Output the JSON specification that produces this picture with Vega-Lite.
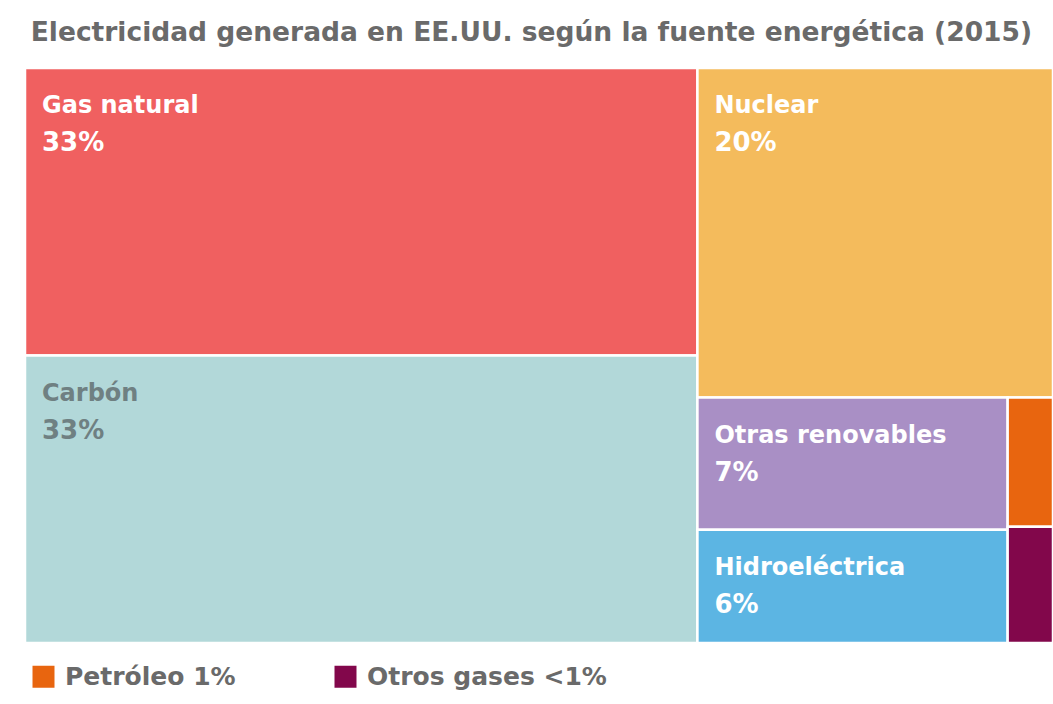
{
  "$schema": "https://vega.github.io/schema/vega-lite/v6.json",
  "width": 1028,
  "height": 575,
  "autosize": {"type": "none"},
  "padding": {"top": 68, "left": 25, "right": 0, "bottom": 61},
  "background": "white",
  "title": {
    "text": "Electricidad generada en EE.UU. según la fuente energética (2015)",
    "anchor": "start",
    "dx": 7,
    "offset": 20,
    "font": "DejaVu Sans",
    "fontSize": 26.5,
    "fontWeight": "bold",
    "color": "#6a6a6a"
  },
  "data": {
    "values": [
      {"name": "Gas natural", "value": 33, "pct": "33%", "col": 1, "grp": 1, "sub": 1, "ord": 1},
      {"name": "Carbón", "value": 33, "pct": "33%", "col": 1, "grp": 1, "sub": 1, "ord": 2},
      {"name": "Nuclear", "value": 20, "pct": "20%", "col": 2, "grp": 1, "sub": 1, "ord": 1},
      {"name": "Otras renovables", "value": 7, "pct": "7%", "col": 2, "grp": 2, "sub": 1, "ord": 1},
      {"name": "Hidroeléctrica", "value": 6, "pct": "6%", "col": 2, "grp": 2, "sub": 1, "ord": 2},
      {"name": "Petróleo", "value": 1, "pct": "1%", "col": 2, "grp": 2, "sub": 2, "ord": 1},
      {"name": "Otros gases", "value": 0.9, "pct": "<1%", "col": 2, "grp": 2, "sub": 2, "ord": 2}
    ]
  },
  "transform": [
    {"stack": "value", "groupby": [], "sort": [{"field": "col"}, {"field": "grp"}, {"field": "sub"}, {"field": "ord"}], "as": ["a0", "a1"]},
    {"joinaggregate": [{"op": "min", "field": "a0", "as": "cx0"}, {"op": "max", "field": "a1", "as": "cx1"}], "groupby": ["col"]},
    {"stack": "value", "groupby": ["col"], "sort": [{"field": "grp"}, {"field": "sub"}, {"field": "ord"}], "offset": "normalize", "as": ["b0", "b1"]},
    {"joinaggregate": [{"op": "min", "field": "b0", "as": "gy0"}, {"op": "max", "field": "b1", "as": "gy1"}], "groupby": ["col", "grp"]},
    {"stack": "value", "groupby": ["col", "grp"], "sort": [{"field": "sub"}, {"field": "ord"}], "offset": "normalize", "as": ["c0", "c1"]},
    {"joinaggregate": [{"op": "min", "field": "c0", "as": "sx0"}, {"op": "max", "field": "c1", "as": "sx1"}], "groupby": ["col", "grp", "sub"]},
    {"stack": "value", "groupby": ["col", "grp", "sub"], "sort": [{"field": "ord"}], "offset": "normalize", "as": ["d0", "d1"]},
    {"calculate": "datum.cx0 + datum.sx0 * (datum.cx1 - datum.cx0)", "as": "x0"},
    {"calculate": "datum.cx0 + datum.sx1 * (datum.cx1 - datum.cx0)", "as": "x1"},
    {"calculate": "datum.gy0 + datum.d0 * (datum.gy1 - datum.gy0)", "as": "y0"},
    {"calculate": "datum.gy0 + datum.d1 * (datum.gy1 - datum.gy0)", "as": "y1"}
  ],
  "encoding": {
    "x": {"field": "x0", "type": "quantitative", "scale": {"nice": false, "zero": true}, "axis": null},
    "y": {"field": "y0", "type": "quantitative", "scale": {"domain": [0, 1], "reverse": true, "nice": false}, "axis": null}
  },
  "layer": [
    {
      "mark": {"type": "rect", "stroke": "white", "strokeWidth": 2.5},
      "encoding": {
        "x2": {"field": "x1"},
        "y2": {"field": "y1"},
        "color": {
          "field": "name",
          "type": "nominal",
          "scale": {
            "domain": ["Gas natural", "Carbón", "Nuclear", "Otras renovables", "Hidroeléctrica", "Petróleo", "Otros gases"],
            "range": ["#f06060", "#b2d8d9", "#f4bb5c", "#a98fc5", "#5cb5e3", "#e8650f", "#82074b"]
          },
          "legend": {
            "values": ["Petróleo", "Otros gases"],
            "title": null,
            "orient": "none",
            "direction": "horizontal",
            "legendX": 6,
            "legendY": 596,
            "symbolType": "square",
            "symbolSize": 484,
            "symbolStrokeWidth": 0,
            "symbolOpacity": 1,
            "labelFont": "DejaVu Sans",
            "labelFontSize": 25,
            "labelFontWeight": "bold",
            "labelColor": "#6a6a6a",
            "labelOffset": 9,
            "columnPadding": 97,
            "labelLimit": 400,
            "labelExpr": "datum.label == 'Petróleo' ? 'Petróleo 1%' : 'Otros gases <1%'"
          }
        }
      }
    },
    {
      "transform": [{"filter": "datum.value >= 5"}],
      "mark": {"type": "text", "align": "left", "baseline": "alphabetic", "dx": 17, "dy": 45, "font": "DejaVu Sans", "fontSize": 24, "fontWeight": "bold"},
      "encoding": {
        "text": {"field": "name"},
        "color": {"condition": {"test": "datum.name == 'Carbón'", "value": "#6f8082"}, "value": "white"}
      }
    },
    {
      "transform": [{"filter": "datum.value >= 5"}],
      "mark": {"type": "text", "align": "left", "baseline": "alphabetic", "dx": 17, "dy": 83, "font": "DejaVu Sans", "fontSize": 26, "fontWeight": "bold"},
      "encoding": {
        "text": {"field": "pct"},
        "color": {"condition": {"test": "datum.name == 'Carbón'", "value": "#6f8082"}, "value": "white"}
      }
    }
  ],
  "config": {"view": {"stroke": null}}
}
